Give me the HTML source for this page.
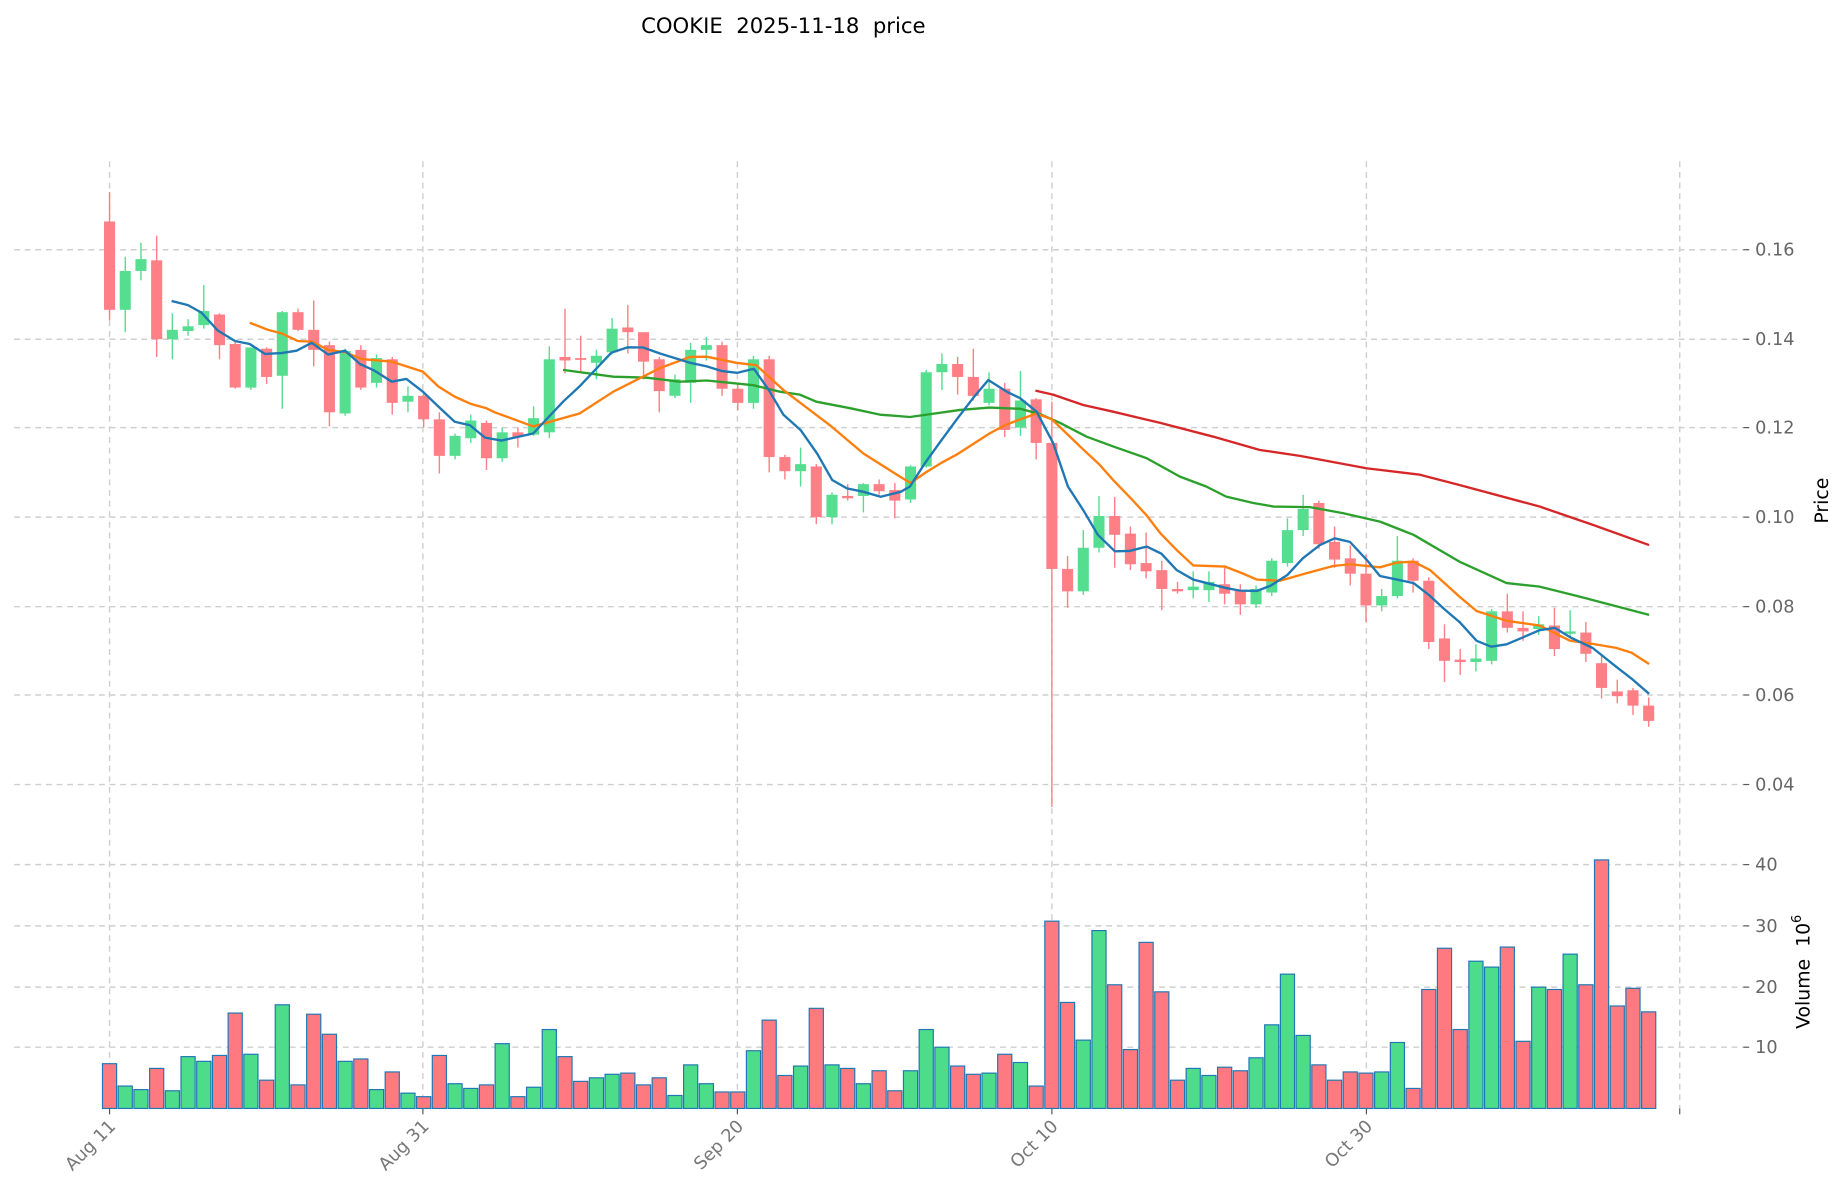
<!DOCTYPE html>
<html><head><meta charset="utf-8"><style>
html,body{margin:0;padding:0;background:#fff;}
svg{display:block;}
text{font-family:"DejaVu Sans","Liberation Sans",sans-serif;}
</style></head><body>
<svg id="c" width="1847" height="1202" viewBox="0 0 1568 1020.4" xmlns="http://www.w3.org/2000/svg">
<rect width="1568" height="1020.4" fill="#fff"/>
<g id="grid" stroke="#cfcfcf" stroke-width="1.2" stroke-dasharray="5,4" fill="none">
<line x1="12" x2="1480" y1="212" y2="212"/><line x1="12" x2="1480" y1="288" y2="288"/>
<line x1="12" x2="1480" y1="363" y2="363"/><line x1="12" x2="1480" y1="439" y2="439"/>
<line x1="12" x2="1480" y1="515" y2="515"/><line x1="12" x2="1480" y1="590" y2="590"/>
<line x1="12" x2="1480" y1="666" y2="666"/>
<line x1="12" x2="1480" y1="734" y2="734"/><line x1="12" x2="1480" y1="786" y2="786"/>
<line x1="12" x2="1480" y1="838" y2="838"/><line x1="12" x2="1480" y1="889" y2="889"/>
<line x1="93" x2="93" y1="137" y2="941"/><line x1="359" x2="359" y1="137" y2="941"/>
<line x1="626" x2="626" y1="137" y2="941"/><line x1="893" x2="893" y1="137" y2="941"/>
<line x1="1160" x2="1160" y1="137" y2="941"/><line x1="1426" x2="1426" y1="137" y2="941"/>
</g>
<g stroke="#555" stroke-width="1">
<line x1="93" x2="93" y1="941" y2="946"/><line x1="359" x2="359" y1="941" y2="946"/>
<line x1="626" x2="626" y1="941" y2="946"/><line x1="893" x2="893" y1="941" y2="946"/>
<line x1="1160" x2="1160" y1="941" y2="946"/><line x1="1426" x2="1426" y1="941" y2="946"/>
</g>
<g id="vol"></g>
<g id="cand"></g>
<g fill="none" stroke-width="2" stroke-linejoin="round">
<polyline stroke="#d62728" points="879,331.6 894,335 919.6,343.8 945,349.5 985,359 1030,370.7 1069.6,382 1103.6,387 1160,397.5 1205.4,403 1239,411.7 1307,430 1352.6,445.7 1400,462.7"/>
<polyline stroke="#2ca02c" points="478,314 520.6,319.8 549,320.6 577,324 600,323 639.5,327 662,332.5 679,335 693,341 721.6,346.5 747,352 772.5,354 815,348 840,346 866,347 883,351.5 900,359 922.5,370.7 945,379 973.5,389 1001.7,404.6 1024,413 1041,421.6 1064,427 1081,430 1112,430.5 1140,435.6 1171.5,442.8 1200,454 1239,476.8 1279,495 1307,498 1341,506.5 1400,522"/>
<polyline stroke="#ff7f0e" points="212,274 227.6,280 239,283 253,289.5 264.6,290 278.6,297 293,299 307,304.8 332.5,307 359,315.5 372,328 386,336.7 400,343 413,346.6 420,350 452.6,362 492,351 520.6,332.5 560,312.6 585.7,303 600,302.8 625,308 642,310 665,331 704.6,361 733,385 764,404.6 773,410 786,401 799,393 812,386 826,377 840,368 853,361 866,356 880,351 893,356 905.5,368 919,381 933,394 945,407.5 959,422 973,437 985,452.6 999,467 1013,480 1040,481 1053,486 1067,492 1086.6,493 1109,486.6 1131.8,480.5 1146,479 1171.5,481.6 1185.6,477.6 1200,476.8 1214,483.9 1239,506.5 1253.5,518.7 1279,527 1307,531 1332.8,543.9 1352.6,546.7 1372,550 1385,554 1400,563.7"/>
<polyline stroke="#1f77b4" points="145.7,255.5 159.6,259 171,265.4 185,280.7 199.5,289.5 212,292 225,300.5 239,299.7 251.8,297.7 264.6,291 278.6,301 293,297.7 305.6,309 318,314.7 332.5,324 345,321.7 359,332.5 372,345 386,358 399,361 411.7,371.5 425.7,374 452.6,368 478,341 492,328 519,299.4 533,294.8 546,295 560,300 586,308 600,311 613,315 625.7,316.5 640,313 652.6,331 665,352 679.6,365 693.7,385 706.5,407.5 719,414.6 733,417.5 747.7,421.7 764.7,417.5 772.5,413 786,392 799,374 813,355 826,338 839,322.6 854.6,332.5 866,338 880,349.5 894,376 906.6,413 919.6,433 932,454 946.5,468 959,467.7 973.5,464 986,470 999,484 1013,492 1040,499 1052.6,501.4 1067,501.7 1079,497 1093,488 1106,474 1120.5,462.7 1133,457 1146,460 1160,475 1171.5,489 1186,492 1200,495 1213,505 1226,517 1239,528 1253.6,544 1266,549 1279,547 1293,541 1307,535 1320,533 1333,541 1352,550 1372,566 1385,576 1400,589"/>
</g>
<g fill="#666" font-size="15">
<text x="1490" y="217">0.16</text><text x="1490" y="293">0.14</text>
<text x="1490" y="368">0.12</text><text x="1490" y="444">0.10</text>
<text x="1490" y="520">0.08</text><text x="1490" y="595">0.06</text>
<text x="1490" y="671">0.04</text>
<text x="1490" y="739">40</text><text x="1490" y="791">30</text>
<text x="1490" y="843">20</text><text x="1490" y="894">10</text>
</g>
<g stroke="#555" stroke-width="1">
<line x1="1480" x2="1485" y1="212" y2="212"/><line x1="1480" x2="1485" y1="288" y2="288"/>
<line x1="1480" x2="1485" y1="363" y2="363"/><line x1="1480" x2="1485" y1="439" y2="439"/>
<line x1="1480" x2="1485" y1="515" y2="515"/><line x1="1480" x2="1485" y1="590" y2="590"/>
<line x1="1480" x2="1485" y1="666" y2="666"/><line x1="1480" x2="1485" y1="734" y2="734"/>
<line x1="1480" x2="1485" y1="786" y2="786"/><line x1="1480" x2="1485" y1="838" y2="838"/>
<line x1="1480" x2="1485" y1="889" y2="889"/>
</g>
<g fill="#777" font-size="15" text-anchor="end">
<text transform="translate(99,957) rotate(-45)">Aug 11</text>
<text transform="translate(365,957) rotate(-45)">Aug 31</text>
<text transform="translate(632,957) rotate(-45)">Sep 20</text>
<text transform="translate(899,957) rotate(-45)">Oct 10</text>
<text transform="translate(1166,957) rotate(-45)">Oct 30</text>
</g>
<text x="665" y="28" font-size="18" text-anchor="middle" fill="#000" xml:space="preserve">COOKIE  2025-11-18  price</text>
<text transform="translate(1552,425) rotate(-90)" font-size="16" text-anchor="middle" fill="#000">Price</text>
<text transform="translate(1536,825) rotate(-90)" font-size="16" text-anchor="middle" fill="#000" xml:space="preserve">Volume  10<tspan dy="-7" font-size="11">6</tspan></text>
</svg>
<script>
var C=[[188,263,163,272,0],[230,263,218,282,1],[220,230,206,238,1],[221,288,200,303,0],[280,288,266,305,1],[277,281,271,285,1],[264,276,242,279,1],[267,293,266,305,0],[292,329,290,330,0],[295,329,295,331,1],[296,320,295,326,0],[265,319,264,347,1],[265,280,262,281,0],[280,297,255,311,0],[293,350,290,362,0],[298,351,296,353,1],[297,329,293,331,0],[304,325,301,329,1],[305,342,303,352,0],[336,341,328,350,1],[336,356,332,363,0],[356,387,350,402,0],[370,387,368,390,1],[357,372,352,376,1],[359,389,357,399,0],[367,389,363,392,1],[367,371,363,380,0],[355,369,345,370,1],[305,367,294,372,1],[303,306,262,317,0],[304,305,285,316,0],[302,308,297,322,1],[279,299,270,301,1],[278,282,259,300,0],[282,307,282,322,0],[305,332,303,350,0],[322,336,318,338,1],[297,325,291,342,1],[293,297,286,306,1],[293,330,290,336,0],[330,342,325,348,0],[305,342,302,347,1],[305,388,302,401,0],[388,400,386,407,0],[394,400,380,413,1],[396,439,394,445,0],[420,439,418,445,1],[421,423,411,425,0],[411,421,410,435,1],[411,417,407,420,0],[416,425,410,440,0],[396,424,395,427,1],[316,396,314,397,1],[309,316,300,331,1],[309,320,303,335,0],[320,336,296,340,0],[330,342,316,344,1],[330,365,325,371,0],[340,363,315,370,1],[339,376,338,390,0],[376,483,341,685,0],[483,502,472,516,0],[465,502,450,505,1],[438,465,421,469,1],[438,454,422,482,0],[453,479,447,484,0],[478,485,452,491,0],[484,500,476,518,0],[500,502,494,504,0],[498,501,485,508,1],[494,501,485,511,1],[496,504,482,513,0],[501,513,496,522,0],[500,513,497,516,1],[476,503,474,506,1],[450,478,440,481,1],[432,450,420,455,1],[427,462,425,466,0],[460,475,447,482,0],[474,487,463,497,0],[487,514,471,528,0],[506,514,500,519,1],[476,506,455,508,1],[476,493,474,503,0],[493,545,490,551,0],[542,561,530,579,0],[560,562,551,573,0],[559,562,547,570,1],[519,561,517,564,1],[519,533,504,537,0],[533,536,519,544,0],[530,534,523,539,1],[531,551,516,557,0],[536,538,518,542,1],[537,555,528,562,0],[563,584,556,593,0],[587,591,577,597,0],[586,599,584,607,0],[599,612,592,617,0]];
var V=[903,922,925,907,926,897,901,896,860,895,917,853,921,861,878,901,899,925,910,928,931,896,920,924,921,886,931,923,874,897,918,915,912,911,921,915,930,904,920,927,927,892,866,913,905,856,904,907,920,909,926,909,874,889,905,912,911,895,902,922,782,851,883,790,836,891,800,842,917,907,913,906,909,898,870,827,879,904,917,910,911,910,885,924,840,805,874,816,821,804,884,838,840,810,836,730,854,839,859];
var ns="http://www.w3.org/2000/svg",cg=document.getElementById("cand"),vg=document.getElementById("vol");
function el(g,t,a){var e=document.createElementNS(ns,t);for(var k in a)e.setAttribute(k,a[k]);g.appendChild(e);}
for(var i=0;i<C.length;i++){var x=93+13.333*i,d=C[i],col=d[4]?"#56de90":"#ff7f86",vc=d[4]?"#4cdc8a":"#ff7a80";
el(cg,"line",{x1:x,x2:x,y1:d[2],y2:d[3],stroke:col,"stroke-width":1.2});
el(cg,"rect",{x:x-4.7,y:d[0],width:9.4,height:Math.max(1.5,d[1]-d[0]),fill:col});
el(vg,"rect",{x:x-6,y:V[i],width:12,height:941-V[i],fill:vc,stroke:"#1f77b4","stroke-width":1});}
</script>
</body></html>
